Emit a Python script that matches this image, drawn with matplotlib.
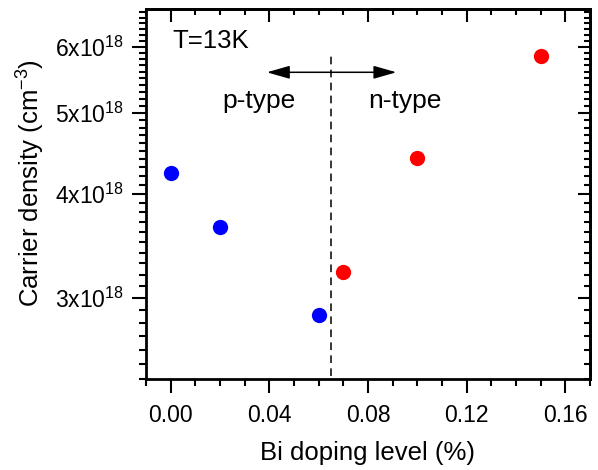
import numpy as np
import matplotlib
matplotlib.use("Agg")
import matplotlib.pyplot as plt
from matplotlib.ticker import FixedLocator, FixedFormatter, NullFormatter

plt.rcParams['font.family'] = ['Liberation Sans', 'DejaVu Sans']
plt.rcParams['mathtext.default'] = 'regular'

# Hole-doped (p-type) samples
p_doping = [0.00, 0.02, 0.06]
p_density = [4.24e18, 3.65e18, 2.86e18]

# Electron-doped (n-type) samples
n_doping = [0.07, 0.10, 0.15]
n_density = [3.22e18, 4.41e18, 5.84e18]

x_major = [0.00, 0.04, 0.08, 0.12, 0.16]
x_major_labels = ['0.00', '0.04', '0.08', '0.12', '0.16']
y_major = [3e18, 4e18, 5e18, 6e18]
y_major_labels = [r'$\mathregular{3x10^{18}}$', r'$\mathregular{4x10^{18}}$',
                  r'$\mathregular{5x10^{18}}$', r'$\mathregular{6x10^{18}}$']

boundary = 0.065
xlim = (-0.01, 0.17)
ylim = (2.40e18, 6.65e18)

x_minor = [v for v in np.round(np.arange(-0.01, 0.1701, 0.01), 3) if v not in x_major]
y_minor = [v * 1e17 for v in range(24, 67) if v % 10 != 0]

fig = plt.figure(figsize=(5.98, 4.70), dpi=100)
ax = fig.add_axes([146 / 598, 1 - 379 / 470, (590 - 146) / 598, (379 - 9.3) / 470])

ax.plot(p_doping, p_density, 'o', color='#0000ff', markersize=11, markeredgewidth=0)
ax.plot(n_doping, n_density, 'o', color='#ff0000', markersize=11, markeredgewidth=0)

ax.set_yscale('log')
ax.set_xlim(*xlim)
ax.set_ylim(*ylim)

# p/n boundary
ax.plot([boundary, boundary], [2.42e18, 5.9e18], color='black', lw=1.1,
        dashes=(5, 3.5))
ax.annotate('', xy=(0.039, 5.59e18), xytext=(0.0915, 5.59e18),
            arrowprops=dict(arrowstyle='<|-|>,head_length=0.7,head_width=0.2',
                            mutation_scale=20, color='black', lw=1.1,
                            shrinkA=0, shrinkB=0))

ax.text(0.0005, 5.98e18, 'T=13K', fontsize=18.5, ha='left', va='baseline')
ax.text(0.0208, 5.07e18, 'p-type', fontsize=19, ha='left', va='baseline')
ax.text(0.0799, 5.07e18, 'n-type', fontsize=19, ha='left', va='baseline')

ax.xaxis.set_major_locator(FixedLocator(x_major))
ax.xaxis.set_major_formatter(FixedFormatter(x_major_labels))
ax.xaxis.set_minor_locator(FixedLocator(x_minor))
ax.yaxis.set_major_locator(FixedLocator(y_major))
ax.yaxis.set_major_formatter(FixedFormatter(y_major_labels))
ax.yaxis.set_minor_locator(FixedLocator(y_minor))
ax.yaxis.set_minor_formatter(NullFormatter())

ax.tick_params(which='major', direction='out', length=10, width=1.5, labelsize=16.5)
ax.tick_params(which='minor', direction='out', length=5, width=1.5)
ax.tick_params(axis='x', which='major', pad=8)
ax.tick_params(axis='y', which='major', pad=6)
for s in ax.spines.values():
    s.set_linewidth(2)

# inward ticks on top and right
top = ax.secondary_xaxis('top')
top.xaxis.set_major_locator(FixedLocator(x_major))
top.xaxis.set_minor_locator(FixedLocator(x_minor))
top.tick_params(which='major', direction='in', length=9, width=1.5, labeltop=False)
top.tick_params(which='minor', direction='in', length=4.5, width=1.5)
top.spines['top'].set_linewidth(2)

right = ax.secondary_yaxis('right')
right.yaxis.set_major_locator(FixedLocator(y_major))
right.yaxis.set_minor_locator(FixedLocator(y_minor))
right.yaxis.set_minor_formatter(NullFormatter())
right.tick_params(which='major', direction='in', length=9, width=1.5, labelright=False)
right.tick_params(which='minor', direction='in', length=4.5, width=1.5)
right.spines['right'].set_linewidth(2)

ax.set_xlabel('Bi doping level (%)', fontsize=18.5, labelpad=10)
ax.set_ylabel('Carrier density (cm$^{\\mathregular{-3}}$)', fontsize=18.5)
ax.yaxis.set_label_coords(-0.224, 0.53)

fig.savefig('out.png', dpi=100)
